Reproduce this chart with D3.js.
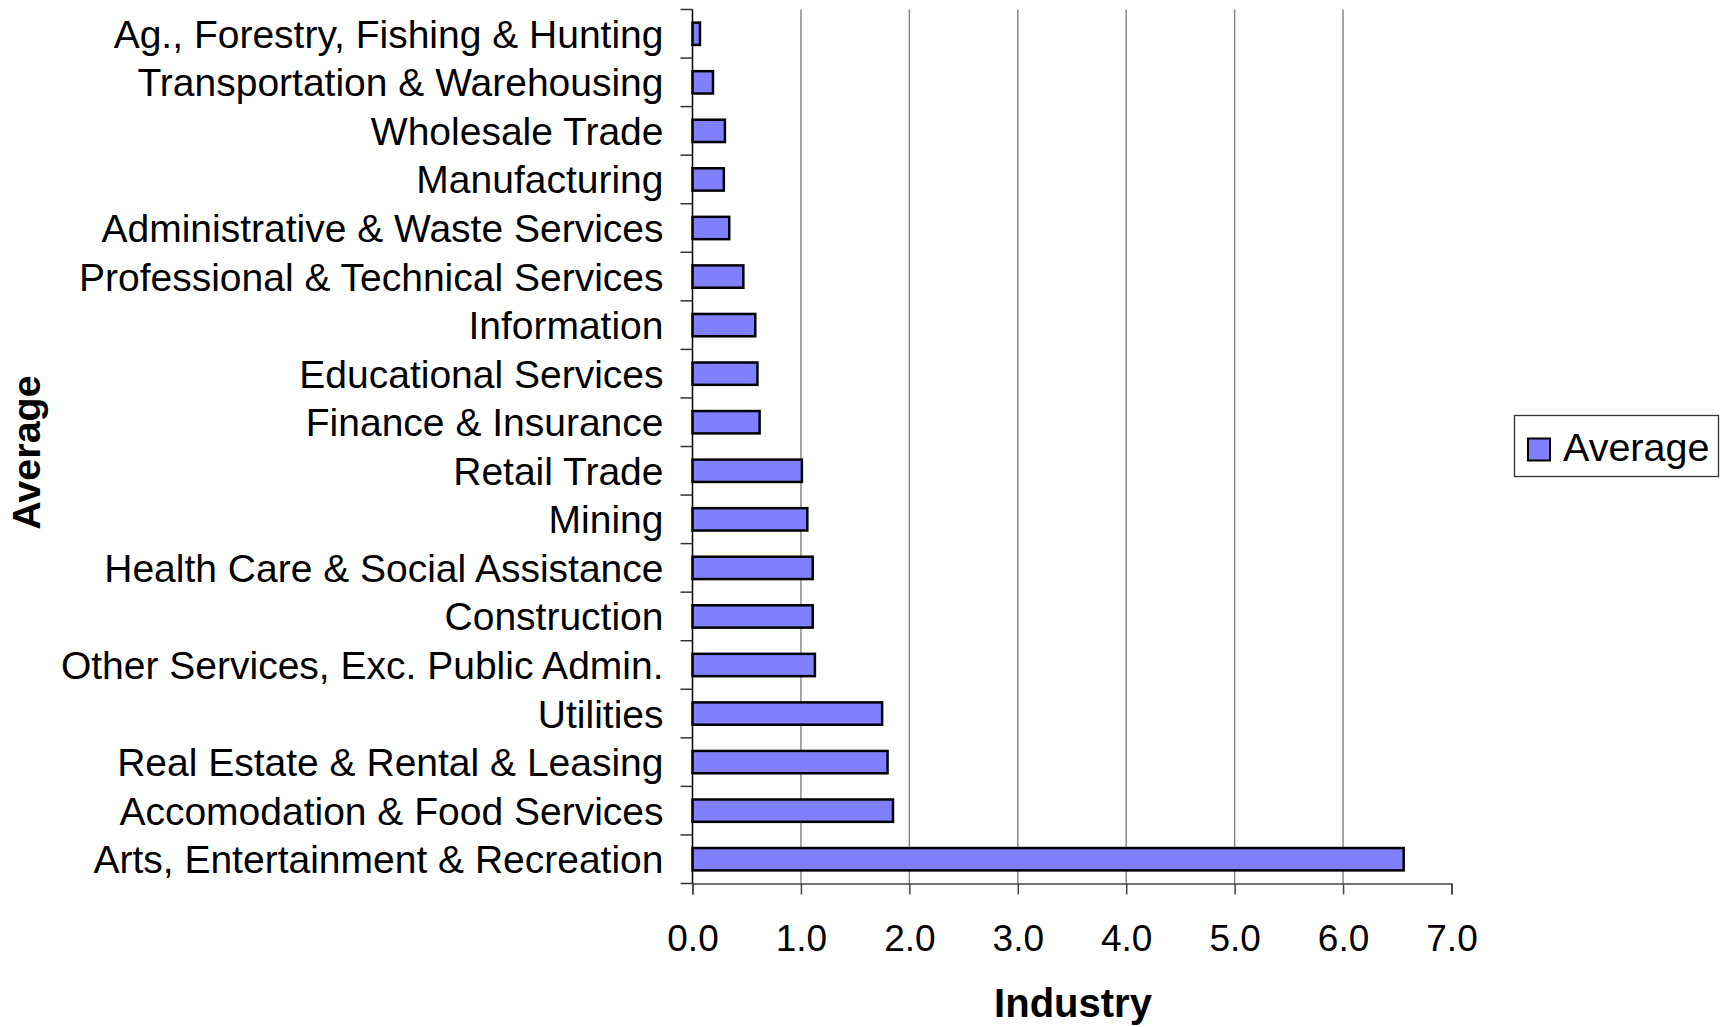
<!DOCTYPE html>
<html>
<head>
<meta charset="utf-8">
<script src="https://cdn.jsdelivr.net/npm/d3@7"></script>
<style>
  html, body { margin: 0; padding: 0; background: #fff; }
  svg { display: block; font-family: "Liberation Sans", Arial, sans-serif; }
</style>
</head>
<body>
<svg id="chart" width="1728" height="1027"></svg>
<script>
const categories = [
  "Ag., Forestry, Fishing & Hunting",
  "Transportation & Warehousing",
  "Wholesale Trade",
  "Manufacturing",
  "Administrative & Waste Services",
  "Professional & Technical Services",
  "Information",
  "Educational Services",
  "Finance & Insurance",
  "Retail Trade",
  "Mining",
  "Health Care & Social Assistance",
  "Construction",
  "Other Services, Exc. Public Admin.",
  "Utilities",
  "Real Estate & Rental & Leasing",
  "Accomodation & Food Services",
  "Arts, Entertainment & Recreation"
];
const averageValues = [0.08, 0.20, 0.31, 0.30, 0.35, 0.48, 0.59, 0.61, 0.63, 1.02, 1.07, 1.12, 1.12, 1.14, 1.76, 1.81, 1.86, 6.57];
const xTicks = [0, 1, 2, 3, 4, 5, 6, 7];
const seriesName = "Average";
const xTitle = "Industry";
const yTitle = "Average";

const svg = d3.select("#chart");
const plotLeft = 692.5, plotRight = 1451.5, plotTop = 9.5, plotBottom = 883.5;

const x = d3.scaleLinear().domain([0, 7]).range([plotLeft, plotRight]);
const y = d3.scaleBand().domain(categories).range([plotTop, plotBottom]).paddingInner(0.54).paddingOuter(0.27);

// gridlines
svg.append("g").selectAll("line").data(xTicks.filter(t => t > 0 && t < 7)).join("line")
  .attr("x1", d => x(d)).attr("x2", d => x(d))
  .attr("y1", plotTop).attr("y2", plotBottom)
  .attr("stroke", "#7a7a7a").attr("stroke-width", 1.3);

// bars
svg.append("g").selectAll("rect").data(categories).join("rect")
  .attr("x", x(0))
  .attr("y", d => y(d))
  .attr("width", (d, i) => x(averageValues[i]) - x(0) - 1.2)
  .attr("height", y.bandwidth())
  .attr("fill", "#8080ff")
  .attr("stroke", "#000")
  .attr("stroke-width", 2.5);

// x axis
const xAxis = d3.axisBottom(x).tickValues(xTicks).tickFormat(d3.format(".1f")).tickSize(11).tickPadding(30);
const gx = svg.append("g").attr("transform", `translate(0,${plotBottom})`).call(xAxis);
gx.select(".domain").attr("stroke", "#444").attr("stroke-width", 1.5);
gx.selectAll(".tick line").attr("stroke", "#444").attr("stroke-width", 1.5);
gx.selectAll(".tick text").attr("font-size", 37).attr("fill", "#000")
  .attr("font-family", "Liberation Sans, Arial, sans-serif");

// y axis: ticks at category boundaries
const step = (plotBottom - plotTop) / categories.length;
const boundaries = d3.range(categories.length + 1).map(i => plotTop + i * step);
const gy = svg.append("g");
gy.append("line").attr("x1", plotLeft).attr("x2", plotLeft).attr("y1", plotTop).attr("y2", plotBottom)
  .attr("stroke", "#000").attr("stroke-width", 1.5);
gy.selectAll("line.tk").data(boundaries).join("line").attr("class", "tk")
  .attr("x1", plotLeft - 12).attr("x2", plotLeft).attr("y1", d => d).attr("y2", d => d)
  .attr("stroke", "#333").attr("stroke-width", 1.5);
gy.selectAll("text").data(categories).join("text")
  .attr("x", 663.5)
  .attr("y", d => y(d) + y.bandwidth() / 2)
  .attr("dy", "0.36em")
  .attr("text-anchor", "end")
  .attr("font-size", 39)
  .attr("fill", "#000")
  .text(d => d);

// axis titles
svg.append("text").attr("x", 1073).attr("y", 1016.5).attr("text-anchor", "middle")
  .attr("font-size", 40).attr("font-weight", "bold").text(xTitle);
svg.append("text").attr("transform", "translate(40,452.5) rotate(-90)").attr("text-anchor", "middle")
  .attr("font-size", 39.5).attr("font-weight", "bold").text(yTitle);

// legend
const lg = svg.append("g");
lg.append("rect").attr("x", 1514.5).attr("y", 415.5).attr("width", 204).attr("height", 61)
  .attr("fill", "#fff").attr("stroke", "#333").attr("stroke-width", 1.3);
lg.append("rect").attr("x", 1528).attr("y", 438.5).attr("width", 22).attr("height", 22)
  .attr("fill", "#8080ff").attr("stroke", "#000").attr("stroke-width", 2);
lg.append("text").attr("x", 1563).attr("y", 461).attr("font-size", 39.5).text(seriesName);
</script>
</body>
</html>
